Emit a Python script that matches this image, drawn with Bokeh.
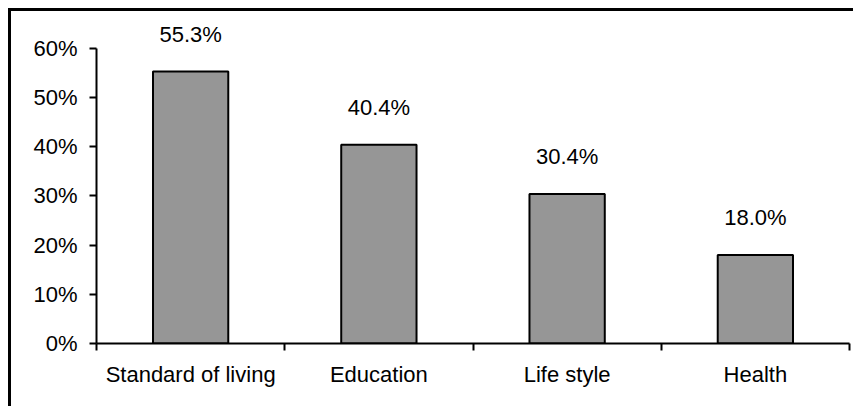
from bokeh.plotting import figure
from bokeh.models import FixedTicker, NumeralTickFormatter, Range1d, ColumnDataSource, LabelSet
from bokeh.core.properties import value
from bokeh.embed import file_html
from bokeh.resources import INLINE

categories = ["Standard of living", "Education", "Life style", "Health"]
values = [0.553, 0.404, 0.304, 0.180]
value_labels = ["55.3%", "40.4%", "30.4%", "18.0%"]
y_ticks = [0, 0.1, 0.2, 0.3, 0.4, 0.5, 0.6]

FONT = "Liberation Sans"
FS = "22px"

xs = [i + 0.5 for i in range(len(categories))]
src = ColumnDataSource(dict(x=xs, top=values, lab=value_labels))

p = figure(width=845, height=398, output_backend="svg", toolbar_location=None,
           x_range=Range1d(0, len(categories)), y_range=Range1d(0, 0.669),
           min_border_left=85, min_border_right=7, min_border_top=3, min_border_bottom=66)
p.styles = {"margin-left": "8px", "margin-top": "8px",
            "border-top": "3px solid black", "border-left": "3px solid black"}
p.outline_line_color = None
p.xgrid.grid_line_color = None
p.ygrid.grid_line_color = None
p.background_fill_color = "white"
p.border_fill_color = "white"

p.vbar(x="x", top="top", width=0.4, source=src, fill_color="#969696",
       line_color="black", line_width=2)

p.add_layout(LabelSet(x="x", y="top", text="lab", source=src, text_align="center",
                      text_baseline="alphabetic", y_offset=30,
                      text_font=value(FONT), text_font_size=value(FS), text_color="black"))

# y axis
ya = p.yaxis[0]
ya.ticker = FixedTicker(ticks=y_ticks, minor_ticks=[])
ya.formatter = NumeralTickFormatter(format="0%")
ya.bounds = (0, 0.6)
ya.axis_line_width = 2
ya.axis_line_color = "black"
ya.major_tick_line_width = 2
ya.major_tick_out = 7
ya.major_tick_in = 0
ya.minor_tick_line_color = None
ya.major_label_standoff = 12
ya.major_label_text_font = FONT
ya.major_label_text_font_size = FS
ya.major_label_text_color = "black"

# x axis
xa = p.xaxis[0]
xa.ticker = FixedTicker(ticks=xs, minor_ticks=list(range(len(categories) + 1)))
xa.major_label_overrides = {x: c for x, c in zip(xs, categories)}
xa.axis_line_width = 2
xa.axis_line_color = "black"
xa.major_tick_line_color = None
xa.minor_tick_line_color = "black"
xa.minor_tick_line_width = 2
xa.minor_tick_out = 7
xa.minor_tick_in = 0
xa.major_label_standoff = 11
xa.major_label_text_font = FONT
xa.major_label_text_font_size = FS
xa.major_label_text_color = "black"

open("out.html", "w").write(file_html(p, INLINE))
